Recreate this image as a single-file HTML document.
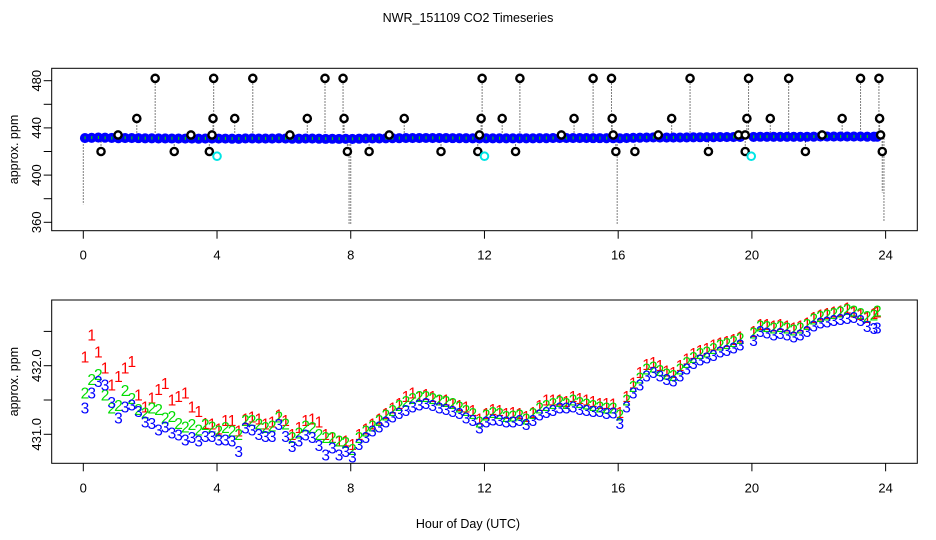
<!DOCTYPE html>
<html><head><meta charset="utf-8"><style>
html,body{margin:0;padding:0;background:#fff;}
svg{display:block;font-family:"Liberation Sans",sans-serif;}
</style></head><body>
<svg id="chart" width="936" height="540" viewBox="0 0 936 540">
<text x="468" y="22" font-size="12.5" text-anchor="middle">NWR_151109  CO2 Timeseries</text>
<text x="468" y="528" font-size="12.5" text-anchor="middle">Hour of Day (UTC)</text>
<g id="top"></g>
<g id="bot"></g>
</svg>
<script>
// ---- data ----
const hours = [
0.05,0.25,0.45,0.65,0.85,1.05,1.25,1.45,1.65,1.85,2.05,2.25,2.45,2.65,2.85,3.05,3.25,3.45,3.65,3.85,
4.05,4.25,4.45,4.65,4.85,5.05,5.25,5.45,5.65,5.85,6.05,6.25,6.45,6.65,6.85,7.05,7.25,7.45,7.65,7.85,
8.05,8.25,8.45,8.65,8.85,9.05,9.25,9.45,9.65,9.85,10.05,10.25,10.45,10.65,10.85,11.05,11.25,11.45,11.65,11.85,
12.05,12.25,12.45,12.65,12.85,13.05,13.25,13.45,13.65,13.85,14.05,14.25,14.45,14.65,14.85,15.05,15.25,15.45,15.65,15.85,
16.05,16.25,16.45,16.65,16.85,17.05,17.25,17.45,17.65,17.85,18.05,18.25,18.45,18.65,18.85,19.05,19.25,19.45,19.65,
20.05,20.25,20.45,20.65,20.85,21.05,21.25,21.45,21.65,21.85,22.05,22.25,22.45,22.65,22.85,23.05,23.25,23.45,23.65,23.75];
const series1 = [
432.13,432.45,432.2,431.97,431.72,431.84,431.97,432.06,431.57,431.4,431.53,431.65,431.74,431.5,431.55,431.6,431.4,431.33,431.16,431.15,
431.08,431.2,431.2,431.05,431.22,431.25,431.22,431.15,431.18,431.28,431.2,431.0,431.1,431.2,431.22,431.18,431.0,430.95,430.9,430.9,
430.85,431.0,431.08,431.15,431.22,431.3,431.38,431.45,431.55,431.6,431.55,431.58,431.55,431.5,431.5,431.45,431.42,431.4,431.35,431.22,
431.3,431.36,431.35,431.3,431.32,431.3,431.26,431.32,431.42,431.5,431.5,431.5,431.48,431.55,431.52,431.5,431.48,431.45,431.45,431.44,
431.32,431.55,431.75,431.9,432.02,432.05,432.0,431.92,431.9,432.0,432.1,432.18,432.22,432.25,432.3,432.33,432.35,432.38,432.42,
432.5,432.6,432.6,432.58,432.6,432.58,432.55,432.58,432.62,432.7,432.74,432.76,432.78,432.8,432.84,432.78,432.75,432.7,432.76,432.78];
const series2 = [
431.6,431.8,431.87,431.57,431.38,431.42,431.64,431.52,431.36,431.31,431.38,431.36,431.24,431.26,431.16,431.11,431.14,431.06,431.14,431.11,
431.05,431.1,431.05,431.0,431.2,431.2,431.15,431.1,431.12,431.25,431.15,430.95,431.02,431.12,431.1,431.0,430.95,430.95,430.9,430.88,
430.78,430.95,431.05,431.12,431.2,431.28,431.35,431.42,431.48,431.52,431.55,431.55,431.52,431.5,431.48,431.45,431.4,431.35,431.3,431.18,
431.28,431.32,431.3,431.26,431.27,431.28,431.22,431.3,431.38,431.42,431.45,431.48,431.45,431.5,431.46,431.44,431.42,431.4,431.38,431.38,
431.28,431.5,431.7,431.82,431.95,431.98,431.93,431.88,431.86,431.95,432.05,432.12,432.18,432.2,432.25,432.3,432.32,432.35,432.4,
432.48,432.58,432.57,432.55,432.57,432.55,432.52,432.55,432.6,432.68,432.72,432.74,432.76,432.78,432.82,432.8,432.76,432.72,432.74,432.8];
const series3 = [
431.38,431.6,431.77,431.72,431.46,431.24,431.4,431.43,431.33,431.18,431.16,431.06,431.11,431.02,430.99,430.92,430.95,430.9,430.97,430.97,
430.92,430.92,430.9,430.75,431.09,431.06,431.0,430.97,430.97,431.14,430.97,430.82,430.9,430.99,430.95,430.84,430.7,430.8,430.7,430.75,
430.67,430.85,430.95,431.05,431.11,431.18,431.25,431.3,431.35,431.4,431.43,431.45,431.42,431.38,431.36,431.33,431.3,431.24,431.2,431.09,
431.18,431.21,431.2,431.18,431.18,431.2,431.14,431.2,431.28,431.32,431.35,431.38,431.38,431.4,431.36,431.35,431.33,431.33,431.3,431.31,
431.16,431.4,431.6,431.72,431.85,431.9,431.85,431.8,431.78,431.85,431.95,432.03,432.08,432.11,432.15,432.2,432.22,432.26,432.3,
432.37,432.5,432.48,432.45,432.47,432.45,432.42,432.45,432.5,432.58,432.62,432.64,432.66,432.67,432.69,432.7,432.66,432.57,432.54,432.55];
const spikeHours = [2.15,3.9,5.07,7.23,7.77,11.93,13.06,15.25,15.8,18.15,19.9,21.1,23.25,23.8,
 1.6,3.88,4.53,6.7,7.8,9.6,11.9,12.53,14.68,15.82,17.6,19.85,20.55,22.7,23.82,
 0.53,2.72,3.77,7.9,8.55,10.7,11.8,12.93,15.93,16.5,18.7,19.8,21.6,23.9,
 1.04,3.22,3.85,6.18,9.15,11.85,14.3,15.85,17.2,19.6,19.8,22.1,23.85];
const spikeValues = [482,482,482,482,482,482,482,482,482,482,482,482,482,482,
 448,448,448,448,448,448,448,448,448,448,448,448,448,448,448,
 420,420,420,420,420,420,420,420,420,420,420,420,420,420,
 434,434,434,434,434,434,434,434,434,434,434,434,434];
const cyanHours = [4.0,12.0,19.98];
const cyanValues = [416,416,416];
const dropHours = [0.0,7.95,8.0,15.97,23.9,23.95];
const dropValues = [375,358,358,358,385,360];
const xTicks = [0,4,8,12,16,20,24];
const topYTicks = [360,380,400,420,440,460,480];
const topYLabels = ["360","","400","","440","","480"];
const botYTicks = [431.0,431.5,432.0,432.5];
const botYLabels = ["431.0","","432.0",""];

// ---- helpers ----
const NS="http://www.w3.org/2000/svg";
function mk(parent,tag,attrs){const e=document.createElementNS(NS,tag);for(const k in attrs)e.setAttribute(k,attrs[k]);parent.appendChild(e);return e;}
const X0=51.7,X1=917.3;
function xs(h){return 83.3+h*33.43;}
const yTop=v=>222.3-(v-360)*(222.3-80.7)/120;
const yBot=v=>434.3-(v-431)*68.6;

function axes(g,top,bottom,yfun,yt,yl,name){
  const box=mk(g,'rect',{x:X0,y:top,width:X1-X0,height:bottom-top,fill:'none',stroke:'#000','stroke-width':1});
  
  
  xTicks.forEach(t=>{
    const l=mk(g,'line',{x1:xs(t),x2:xs(t),y1:bottom,y2:bottom+8,stroke:'#000'});
    
    
    const tx=mk(g,'text',{x:xs(t),y:bottom+29,'font-size':13,'text-anchor':'middle'});
    tx.textContent=t;
    
    
  });
  yt.forEach((v,i)=>{
    const y=yfun(v);
    const l=mk(g,'line',{x1:X0-8,x2:X0,y1:y,y2:y,stroke:'#000'});
    
    
    if(yl[i]){
      const tx=mk(g,'text',{x:0,y:0,'font-size':13,'text-anchor':'middle',transform:`translate(41,${y}) rotate(-90)`});
      tx.textContent=yl[i];
      
      
    }
  });
  const yt2=mk(g,'text',{x:0,y:0,'font-size':12.5,'text-anchor':'middle',transform:`translate(18,${(top+bottom)/2}) rotate(-90)`});
  yt2.textContent='approx. ppm';
  
  
}

// ---- top panel ----
const gt=document.getElementById('top');
axes(gt,68.3,230.7,yTop,topYTicks,topYLabels,'top');
dropHours.forEach((h,i)=>{
  const l=mk(gt,'line',{x1:xs(h),x2:xs(h),y1:yTop(431),y2:yTop(dropValues[i]),stroke:'#000','stroke-dasharray':'1 2'});
  
  
});
spikeHours.forEach((h,i)=>{
  const l=mk(gt,'line',{x1:xs(h),x2:xs(h),y1:yTop(431),y2:yTop(spikeValues[i]),stroke:'#000','stroke-dasharray':'1 2'});
  
  
});
hours.forEach((h,i)=>{
  const c=mk(gt,'circle',{cx:xs(h),cy:yTop(series3[i]),r:3.3,fill:'#0000ff',stroke:'#0000ff','stroke-width':3.5});
  
  
  const c2=mk(gt,'rect',{x:xs(h)-0.5,y:yTop(series2[i])-1.5,width:1.2,height:3,fill:'#00cc00'});
  
  
});
spikeHours.forEach((h,i)=>{
  const c=mk(gt,'circle',{cx:xs(h),cy:yTop(spikeValues[i]),r:3.6,fill:'#fff',stroke:'#000','stroke-width':2.4});
  
  
});
cyanHours.forEach((h,i)=>{
  const c=mk(gt,'circle',{cx:xs(h),cy:yTop(cyanValues[i]),r:3.8,fill:'none',stroke:'#00e5e5','stroke-width':2});
  
  
});

// ---- bottom panel ----
const gb=document.getElementById('bot');
axes(gb,300,463.3,yBot,botYTicks,botYLabels,'bottom');
[[series1,'#ff0000','1'],[series2,'#00dd00','2'],[series3,'#0000ff','3']].forEach(([arr,col,ch])=>{
  hours.forEach((h,i)=>{
    const t=mk(gb,'text',{x:xs(h),y:yBot(arr[i])+5.5,'font-size':15.5,'text-anchor':'middle',fill:col});
    t.textContent=ch;
    
    
  });
});
</script>
</body></html>
